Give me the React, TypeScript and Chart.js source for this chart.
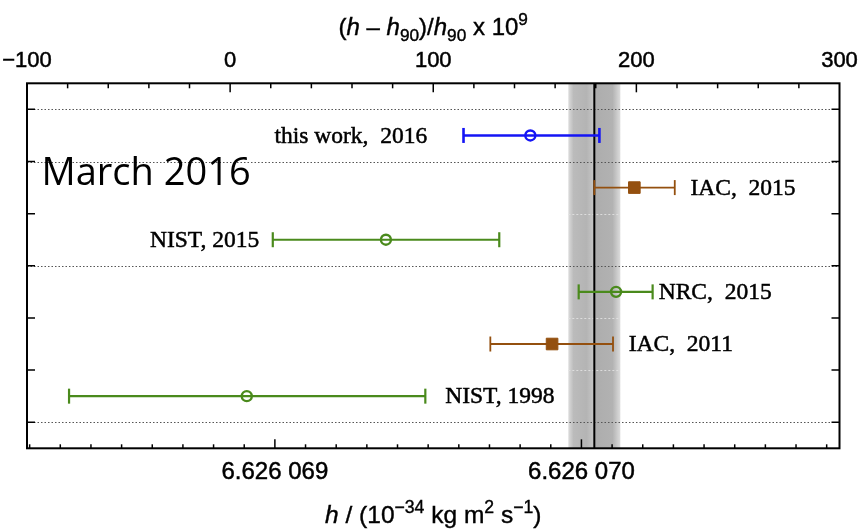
import React, { useEffect, useRef } from 'react';
import { Chart, registerables } from 'chart.js';

Chart.register(...registerables);

// conventional value h90 (units of 1e-34 J s)
const H90 = 6.626068854;
const hToX = (h: number) => ((h - H90) / H90) * 1e9;

// measurements, in (h - h90)/h90 x 1e9
const measurementLabels = ['this work,  2016', 'IAC,  2015', 'NIST, 2015', 'NRC,  2015', 'IAC,  2011', 'NIST, 1998'];
const rows = [0.5, 1.5, 2.5, 3.5, 4.5, 5.5];
const centers = [147.8, 199.0, 76.7, 190.0, 158.5, 8.2];
const lows = [114.9, 179.3, 21.0, 171.6, 128.1, -79.3];
const highs = [181.8, 218.9, 132.5, 208.0, 188.5, 96.1];
const markerKinds = ['open', 'filled', 'open', 'open', 'filled', 'open'];
const labelAt = [97, 226.6, 14.3, 211, 196.2, 105.9];
const labelSide: CanvasTextAlign[] = ['right', 'left', 'right', 'left', 'left', 'left'];

// reference value band
const refValue = 179.3;
const refHalfWidth = 12.8;

// axes
const topTicks = [-100, 0, 100, 200, 300];
const bottomTickH = [6.626069, 6.62607];
const bottomTickLabels = ['6.626 069', '6.626 070'];
const separatorRows = [0, 1, 3, 6];
const bandOnlyRows = [2, 4, 5];
const annotationText = 'March 2016';

const BLUE = '#1414f5';
const GREEN = '#4a8a1c';
const BROWN = '#94500f';
const seriesColors = [BLUE, BROWN, GREEN, GREEN, BROWN, GREEN];
const lineWidths = [2.6, 1.8, 2.2, 2.2, 1.8, 2.2];

const SANS = '"Liberation Sans", Arial, Helvetica, sans-serif';
const SERIF = '"Liberation Serif", "Times New Roman", serif';

type Seg = { t: string; it?: boolean; sub?: boolean; sup?: boolean };

function drawRich(ctx: CanvasRenderingContext2D, segs: Seg[], cx: number, baseline: number, size: number) {
  const fontFor = (s: Seg) => `${s.it ? 'italic ' : ''}${s.sub || s.sup ? size * 0.72 : size}px ${SANS}`;
  let total = 0;
  for (const s of segs) {
    ctx.font = fontFor(s);
    total += ctx.measureText(s.t).width;
  }
  let x = cx - total / 2;
  ctx.textAlign = 'left';
  ctx.textBaseline = 'alphabetic';
  ctx.strokeStyle = '#000';
  ctx.lineWidth = 0.4;
  for (const s of segs) {
    ctx.font = fontFor(s);
    const dy = s.sub ? size * 0.26 : s.sup ? -size * 0.42 : 0;
    ctx.fillText(s.t, x, baseline + dy);
    ctx.strokeText(s.t, x, baseline + dy);
    x += ctx.measureText(s.t).width;
  }
}

const topTitle: Seg[] = [
  { t: '(' }, { t: 'h', it: true }, { t: ' \u2013 ' }, { t: 'h', it: true }, { t: '90', sub: true },
  { t: ')/' }, { t: 'h', it: true }, { t: '90', sub: true }, { t: ' x 10' }, { t: '9', sup: true },
];
const bottomTitle: Seg[] = [
  { t: 'h', it: true }, { t: ' / (10' }, { t: '\u221234', sup: true }, { t: ' kg m' }, { t: '2', sup: true },
  { t: ' s' }, { t: '\u22121', sup: true }, { t: ')' },
];

const decorPlugin = {
  id: 'decor',
  beforeDatasetsDraw(chart: any) {
    const { ctx, chartArea: a, scales } = chart;
    const xs = scales.x;
    const ys = scales.y;
    ctx.save();
    // band
    const xl = xs.getPixelForValue(refValue - refHalfWidth);
    const xr = xs.getPixelForValue(refValue + refHalfWidth);
    const g = ctx.createLinearGradient(xl, 0, xr, 0);
    g.addColorStop(0, '#dcdcdc');
    g.addColorStop(0.1, '#bbbbbb');
    g.addColorStop(0.35, '#b4b4b4');
    g.addColorStop(0.47, '#c4c4c4');
    g.addColorStop(0.53, '#adadad');
    g.addColorStop(0.85, '#b2b2b2');
    g.addColorStop(1, '#dcdcdc');
    ctx.fillStyle = g;
    ctx.fillRect(xl, a.top, xr - xl, a.bottom - a.top);
    // faint dotted lines inside band
    ctx.setLineDash([2, 2]);
    ctx.lineWidth = 1;
    ctx.strokeStyle = 'rgba(225,225,225,0.9)';
    for (const r of bandOnlyRows) {
      const y = Math.round(ys.getPixelForValue(r)) + 0.5;
      ctx.beginPath();
      ctx.moveTo(xl, y);
      ctx.lineTo(xr, y);
      ctx.stroke();
    }
    // separator dotted lines
    ctx.strokeStyle = '#555';
    ctx.setLineDash([1.5, 2]);
    for (const r of separatorRows) {
      const y = Math.round(ys.getPixelForValue(r)) + 0.5;
      ctx.beginPath();
      ctx.moveTo(a.left, y);
      ctx.lineTo(a.right, y);
      ctx.stroke();
    }
    ctx.setLineDash([]);
    // reference line
    const xc = xs.getPixelForValue(refValue);
    ctx.strokeStyle = '#000';
    ctx.lineWidth = 2;
    ctx.beginPath();
    ctx.moveTo(xc, a.top);
    ctx.lineTo(xc, a.bottom);
    ctx.stroke();
    ctx.restore();
  },
  afterDatasetsDraw(chart: any) {
    const { ctx, chartArea: a, scales } = chart;
    const xs = scales.x;
    const ys = scales.y;
    ctx.save();
    // frame
    ctx.strokeStyle = '#000';
    ctx.lineWidth = 2;
    ctx.strokeRect(a.left, a.top, a.right - a.left, a.bottom - a.top);
    ctx.lineWidth = 1.5;
    // top ticks (inward)
    for (let v = -80; v < 300; v += 20) {
      const px = xs.getPixelForValue(v);
      const len = v % 100 === 0 ? 9 : 5;
      ctx.beginPath();
      ctx.moveTo(px, a.top);
      ctx.lineTo(px, a.top + len);
      ctx.stroke();
    }
    // bottom ticks (inward)
    for (let k = -12; k <= 20; k++) {
      const v = hToX(bottomTickH[0] + k * 1e-7);
      if (v <= -100 || v >= 300) continue;
      const px = xs.getPixelForValue(v);
      const len = k % 10 === 0 ? 9 : 4;
      ctx.beginPath();
      ctx.moveTo(px, a.bottom);
      ctx.lineTo(px, a.bottom - len);
      ctx.stroke();
    }
    // left / right ticks
    for (let r = 0; r <= 6; r++) {
      const py = ys.getPixelForValue(r);
      ctx.beginPath();
      ctx.moveTo(a.left, py);
      ctx.lineTo(a.left + 8, py);
      ctx.moveTo(a.right, py);
      ctx.lineTo(a.right - 8, py);
      ctx.stroke();
    }
    // measurement labels
    ctx.fillStyle = '#000';
    ctx.strokeStyle = '#000';
    ctx.lineWidth = 0.5;
    ctx.font = `23.5px ${SERIF}`;
    ctx.textBaseline = 'middle';
    measurementLabels.forEach((t, i) => {
      ctx.textAlign = labelSide[i];
      const x = xs.getPixelForValue(labelAt[i]);
      const y = ys.getPixelForValue(rows[i]) + 1;
      ctx.fillText(t, x, y);
      ctx.strokeText(t, x, y);
    });
    // annotation
    ctx.font = '38px "Open Sans", sans-serif';
    ctx.textAlign = 'left';
    ctx.textBaseline = 'alphabetic';
    ctx.fillText(annotationText, 41.5, 185);
    // axis titles
    const cx = (a.left + a.right) / 2;
    drawRich(ctx, topTitle, cx, 35, 24);
    drawRich(ctx, bottomTitle, cx, 523, 24.5);
    ctx.restore();
  },
};

export default function App() {
  const ref = useRef<HTMLCanvasElement>(null);
  useEffect(() => {
    if (!ref.current) return;
    const datasets = measurementLabels.map((lab, i) => {
      const filled = markerKinds[i] === 'filled';
      return {
        label: lab,
        xAxisID: 'x',
        yAxisID: 'y',
        data: [
          { x: lows[i], y: rows[i] },
          { x: centers[i], y: rows[i] },
          { x: highs[i], y: rows[i] },
        ],
        borderColor: seriesColors[i],
        borderWidth: lineWidths[i],
        showLine: true,
        fill: false,
        pointStyle: ['line', filled ? 'rect' : 'circle', 'line'],
        pointRotation: [90, 0, 90],
        pointRadius: [7.5, filled ? 8.2 : 5, 7.5],
        pointBorderWidth: [lineWidths[i], filled ? 1 : 2.4, lineWidths[i]],
        pointBorderColor: seriesColors[i],
        pointBackgroundColor: filled ? seriesColors[i] : 'rgba(0,0,0,0)',
      };
    });
    const chart = new Chart(ref.current, {
      type: 'line',
      data: { datasets } as any,
      options: {
        animation: false,
        responsive: false,
        devicePixelRatio: 1,
        events: [],
        clip: false,
        layout: { padding: { left: 0, right: 22.5, top: 0, bottom: 0 } },
        plugins: { legend: { display: false }, tooltip: { enabled: false } },
        scales: {
          x: {
            type: 'linear',
            position: 'top',
            min: -100,
            max: 300,
            afterBuildTicks: (s: any) => {
              s.ticks = topTicks.map((v) => ({ value: v }));
            },
            ticks: {
              autoSkip: false,
              maxRotation: 0,
              padding: 1,
              color: '#000',
              font: { family: SANS, size: 22 },
              textStrokeColor: '#000',
              textStrokeWidth: 0.5,
              callback: (v: any) => (v < 0 ? '\u2212' + Math.abs(v) : String(v)),
            },
            grid: { display: false },
            border: { display: false },
            afterFit: (s: any) => {
              s.height = 83.3;
              s.paddingLeft = 0;
              s.paddingRight = 0;
            },
          },
          x2: {
            type: 'linear',
            position: 'bottom',
            min: -100,
            max: 300,
            afterBuildTicks: (s: any) => {
              s.ticks = bottomTickH.map((h) => ({ value: hToX(h) }));
            },
            ticks: {
              autoSkip: false,
              maxRotation: 0,
              padding: 2,
              color: '#000',
              font: { family: SANS, size: 24 },
              textStrokeColor: '#000',
              textStrokeWidth: 0.5,
              callback: (_v: any, i: number) => bottomTickLabels[i],
            },
            grid: { display: false },
            border: { display: false },
            afterFit: (s: any) => {
              s.height = 83.7;
              s.paddingLeft = 0;
              s.paddingRight = 0;
            },
          },
          y: {
            type: 'linear',
            position: 'left',
            min: -0.5,
            max: 6.5,
            reverse: true,
            ticks: { display: false },
            grid: { display: false },
            border: { display: false },
            afterFit: (s: any) => {
              s.width = 27;
            },
          },
        },
      } as any,
      plugins: [decorPlugin],
    });
    return () => chart.destroy();
  }, []);
  return (
    <div style={{ position: 'fixed', left: 0, top: 0, width: 862, height: 532, background: '#fff' }}>
      <canvas ref={ref} width={862} height={532} />
    </div>
  );
}
